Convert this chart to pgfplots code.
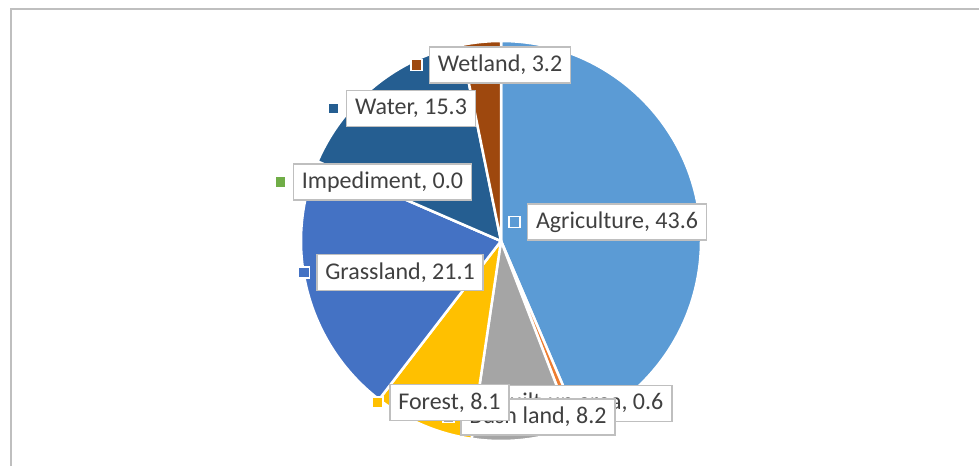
\documentclass[border=0pt]{standalone}
\usepackage{fontspec}
\setmainfont{Carlito}
\usepackage{pgfplots}
\usepackage{pgfplotstable}
\pgfplotsset{compat=1.18}

\definecolor{cAgri}{HTML}{5B9BD5}
\definecolor{cBuilt}{HTML}{ED7D31}
\definecolor{cBush}{HTML}{A5A5A5}
\definecolor{cForest}{HTML}{FFC000}
\definecolor{cGrass}{HTML}{4472C4}
\definecolor{cImped}{HTML}{70AD47}
\definecolor{cWater}{HTML}{255E91}
\definecolor{cWet}{HTML}{9E480E}
\definecolor{frame}{HTML}{BFBFBF}
\definecolor{txt}{HTML}{404040}

% share (%), slice colour, label centre (chart px, y up)
\pgfplotstableread[col sep=comma]{
name,value,color,lx,ly
Agriculture,43.6,cAgri,617,244
Built-up area,0.6,cBuilt,580,62.5
Bush land,8.2,cBush,538,49
Forest,8.1,cForest,449.5,63.5
Grassland,21.1,cGrass,400,193.5
Impediment,0.0,cImped,382.5,284
Water,15.3,cWater,411,357.5
Wetland,3.2,cWet,500,401
}\landuse

\begin{document}
\begin{tikzpicture}[
    lbl/.style={draw=frame, fill=white, line width=0.75pt, text=txt,
      inner xsep=4.25pt, inner ysep=0pt, minimum height=18pt,
      font=\fontsize{12}{14}\selectfont},
    mk/.style={draw=white, line width=0.9pt, minimum size=5.5pt, inner sep=0pt},
  ]
\begin{axis}[
    x=0.5pt, y=0.5pt,
    xmin=0, xmax=979, ymin=0, ymax=466,
    hide axis, clip=false,
    anchor=origin, at={(0,0)},
  ]
  % chart area border
  \draw[frame, line width=1pt] (axis cs:10.5,0) -- (axis cs:10.5,456.5) -- (axis cs:979,456.5);

  % total of the shares
  \xdef\total{0}
  \pgfplotsinvokeforeach{0,...,7}{
    \pgfplotstablegetelem{#1}{value}\of\landuse
    \pgfmathsetmacro\t{\total+\pgfplotsretval}
    \xdef\total{\t}
  }

  % slices, clockwise from 12 o'clock
  \xdef\cum{0}
  \pgfplotsinvokeforeach{0,...,7}{
    \pgfplotstablegetelem{#1}{value}\of\landuse \let\val\pgfplotsretval
    \pgfplotstablegetelem{#1}{color}\of\landuse \let\col\pgfplotsretval
    \pgfmathsetmacro\sa{90-360*(\cum/\total)}
    \pgfmathsetmacro\newcum{\cum+\val}
    \pgfmathsetmacro\ea{90-360*(\newcum/\total)}
    \xdef\cum{\newcum}
    \edef\temp{\noexpand\fill[\col, draw=white, line width=1.25pt, line join=round]
      (axis cs:501,225) -- ++(\sa:100pt) arc[start angle=\sa, end angle=\ea, radius=100pt] -- cycle;}
    \temp
  }

  % data labels with legend keys
  \pgfplotsinvokeforeach{0,...,7}{
    \pgfplotstablegetelem{#1}{name}\of\landuse \let\nm\pgfplotsretval
    \pgfplotstablegetelem{#1}{value}\of\landuse \let\val\pgfplotsretval
    \pgfplotstablegetelem{#1}{color}\of\landuse \let\col\pgfplotsretval
    \pgfplotstablegetelem{#1}{lx}\of\landuse \let\lx\pgfplotsretval
    \pgfplotstablegetelem{#1}{ly}\of\landuse \let\ly\pgfplotsretval
    \edef\temp{\noexpand\node[lbl] (L#1) at (axis cs:\lx,\ly) {\nm, \val};
      \noexpand\node[mk, fill=\col] at ([xshift=-6pt]L#1.west) {};}
    \temp
  }
\end{axis}
\pgfresetboundingbox
\useasboundingbox (0,0) rectangle (489.5pt,233pt);
\end{tikzpicture}
\end{document}
